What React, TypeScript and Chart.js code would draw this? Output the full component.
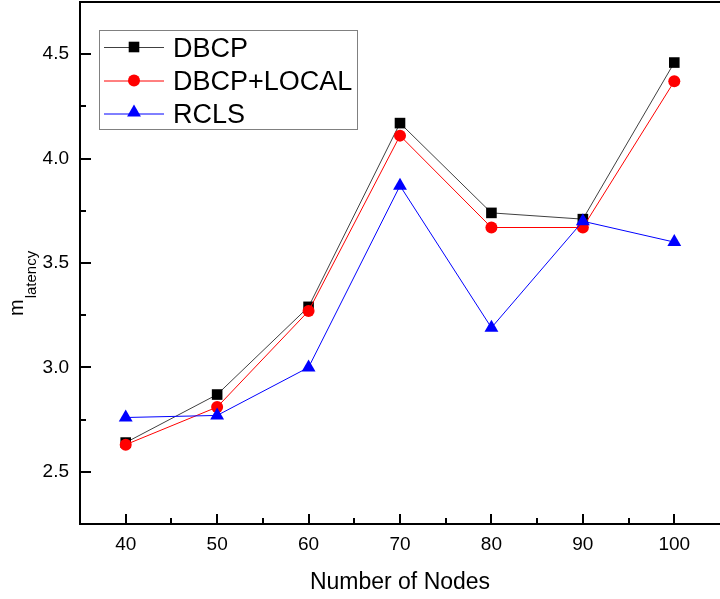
import React, { useEffect, useRef } from 'react';
import { Chart, registerables } from 'chart.js';

Chart.register(...registerables);

const nodes = [40, 50, 60, 70, 80, 90, 100];
const dbcp = [2.64, 2.87, 3.29, 4.17, 3.74, 3.71, 4.46];
const dbcpLocal = [2.63, 2.81, 3.27, 4.11, 3.67, 3.67, 4.37];
const rcls = [2.76, 2.77, 3.0, 3.87, 3.19, 3.7, 3.6];

const xTicks = [40, 50, 60, 70, 80, 90, 100];
const xMinorTicks = [45, 55, 65, 75, 85, 95];
const yTicks = [2.5, 3.0, 3.5, 4.0, 4.5];
const yMinorTicks = [2.75, 3.25, 3.75, 4.25];

const seriesNames = ['DBCP', 'DBCP+LOCAL', 'RCLS'];
const xTitle = 'Number of Nodes';
const yTitleMain = 'm';
const yTitleSub = 'latency';

const FONT = '"Liberation Sans", Arial, sans-serif';

const markerStyles = ['rect', 'circle', 'triangle'];
const markerRadii = [7.5, 6, 8];
const markerColors = ['#000000', '#ff0000', '#0000ff'];
const lineColors = ['#404040', '#ff0000', '#0000ff'];

function drawMarker(ctx: CanvasRenderingContext2D, style: string, x: number, y: number, r: number, color: string) {
  ctx.save();
  ctx.fillStyle = color;
  ctx.beginPath();
  if (style === 'rect') {
    const s = Math.SQRT1_2 * r;
    ctx.rect(x - s, y - s, 2 * s, 2 * s);
  } else if (style === 'circle') {
    ctx.arc(x, y, r, 0, Math.PI * 2);
  } else {
    ctx.moveTo(x, y - r);
    ctx.lineTo(x + Math.sin((2 * Math.PI) / 3) * r, y + r / 2);
    ctx.lineTo(x - Math.sin((2 * Math.PI) / 3) * r, y + r / 2);
    ctx.closePath();
  }
  ctx.fill();
  ctx.restore();
}

const decorPlugin = {
  id: 'decor',
  afterDraw(chart: any) {
    const { ctx, chartArea, scales } = chart;
    const { left, right, top } = chartArea;
    const xs = scales.x;
    const ys = scales.y;
    const axisY = xs.top;
    const axisX = ys.right;
    ctx.save();
    ctx.strokeStyle = '#000';
    ctx.lineWidth = 2;
    const seg = (x1: number, y1: number, x2: number, y2: number) => {
      ctx.beginPath();
      ctx.moveTo(x1, y1);
      ctx.lineTo(x2, y2);
      ctx.stroke();
    };
    // top frame line
    seg(axisX - 1, top, right, top);
    // inward ticks
    xTicks.forEach((v) => {
      const px = Math.round(xs.getPixelForValue(v));
      seg(px, axisY, px, axisY - 10);
    });
    xMinorTicks.forEach((v) => {
      const px = Math.round(xs.getPixelForValue(v));
      seg(px, axisY, px, axisY - 6);
    });
    yTicks.forEach((v) => {
      const py = Math.round(ys.getPixelForValue(v));
      seg(axisX, py, axisX + 11, py);
    });
    yMinorTicks.forEach((v) => {
      const py = Math.round(ys.getPixelForValue(v));
      seg(axisX, py, axisX + 6, py);
    });

    // x title
    ctx.fillStyle = '#000';
    ctx.font = `23px ${FONT}`;
    ctx.textAlign = 'center';
    ctx.textBaseline = 'alphabetic';
    ctx.fillText(xTitle, (left + right) / 2, 589);

    // y title with subscript
    ctx.save();
    ctx.translate(23, 316);
    ctx.rotate(-Math.PI / 2);
    ctx.textAlign = 'left';
    ctx.font = `20px ${FONT}`;
    ctx.fillText(yTitleMain, 0, 0);
    const mw = ctx.measureText(yTitleMain).width;
    ctx.font = `15px ${FONT}`;
    ctx.fillText(yTitleSub, mw + 1, 13);
    ctx.restore();

    // legend
    const bx = 99.5, by = 30.5, bw = 258, bh = 99;
    ctx.fillStyle = '#fff';
    ctx.fillRect(bx, by, bw, bh);
    ctx.strokeStyle = '#808080';
    ctx.lineWidth = 1;
    ctx.strokeRect(bx, by, bw, bh);
    const rows = [47, 80.5, 113.5];
    seriesNames.forEach((name, i) => {
      const ry = rows[i];
      ctx.strokeStyle = lineColors[i];
      ctx.lineWidth = 1;
      ctx.beginPath();
      ctx.moveTo(104, ry + 0.5);
      ctx.lineTo(164, ry + 0.5);
      ctx.stroke();
      drawMarker(ctx, markerStyles[i], 134, ry + (i === 2 ? -1 : 0), markerRadii[i], markerColors[i]);
      ctx.fillStyle = '#000';
      ctx.font = `27px ${FONT}`;
      ctx.textAlign = 'left';
      ctx.textBaseline = 'alphabetic';
      ctx.fillText(name, 173, ry + 9.5);
    });
    ctx.restore();
  },
};

export default function App() {
  const ref = useRef<HTMLCanvasElement | null>(null);

  useEffect(() => {
    if (!ref.current) return;
    const seriesValues = [dbcp, dbcpLocal, rcls];
    const chart = new Chart(ref.current, {
      type: 'line',
      data: {
        datasets: seriesValues.map((vals, i) => ({
          label: seriesNames[i],
          data: nodes.map((n, k) => ({ x: n, y: vals[k] })),
          borderColor: lineColors[i],
          borderWidth: 1,
          pointStyle: markerStyles[i] as any,
          pointRadius: markerRadii[i],
          pointBackgroundColor: markerColors[i],
          pointBorderColor: markerColors[i],
          pointBorderWidth: 0,
          fill: false,
          tension: 0,
          order: 3 - i,
          clip: false as any,
        })),
      },
      options: {
        animation: false,
        responsive: false,
        devicePixelRatio: 1,
        events: [],
        layout: { autoPadding: false, padding: { top: 2, left: 0, right: 0, bottom: 0 } },
        plugins: {
          legend: { display: false },
          tooltip: { enabled: false },
        },
        scales: {
          x: {
            type: 'linear',
            min: 35,
            max: 105,
            grid: { display: false, drawTicks: false },
            border: { display: true, color: '#000', width: 2 },
            afterBuildTicks: (scale: any) => {
              scale.ticks = xTicks.map((v) => ({ value: v }));
            },
            afterFit: (scale: any) => {
              scale.height = 75;
              scale.paddingLeft = 0;
              scale.paddingRight = 0;
              scale.paddingTop = 0;
              scale.paddingBottom = 0;
            },
            ticks: {
              color: '#000',
              padding: 9,
              font: { family: FONT, size: 19 },
              maxRotation: 0,
              autoSkip: false,
              callback: (v: any) => String(v),
            },
          },
          y: {
            type: 'linear',
            min: 2.25,
            max: 4.75,
            grid: { display: false, drawTicks: false },
            border: { display: true, color: '#000', width: 2 },
            afterBuildTicks: (scale: any) => {
              scale.ticks = yTicks.map((v) => ({ value: v }));
            },
            afterFit: (scale: any) => {
              scale.width = 80;
              scale.paddingLeft = 0;
              scale.paddingRight = 0;
              scale.paddingTop = 0;
              scale.paddingBottom = 0;
            },
            ticks: {
              color: '#000',
              padding: 11,
              font: { family: FONT, size: 19 },
              autoSkip: false,
              callback: (v: any) => Number(v).toFixed(1),
            },
          },
        },
      },
      plugins: [decorPlugin],
    });
    return () => chart.destroy();
  }, []);

  return (
    <div style={{ position: 'fixed', left: 0, top: 0, width: 720, height: 599, background: '#fff' }}>
      <canvas ref={ref} width={720} height={599} style={{ display: 'block' }} />
    </div>
  );
}
